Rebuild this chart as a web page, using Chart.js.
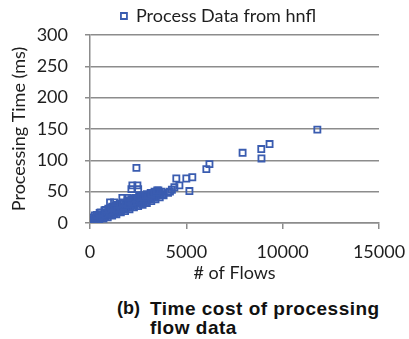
<!DOCTYPE html>
<html>
<head>
<meta charset="utf-8">
<script src="https://cdn.jsdelivr.net/npm/chart.js@4.4.0/dist/chart.umd.min.js"></script>
<style>
    body { margin: 0; background: #fff; }
    #wrap { position: relative; width: 409px; height: 339px; }
    #box { position: absolute; left: 0; top: 0; width: 409px; height: 284px; }
    #caption {
        position: absolute; left: 117px; top: 299px;
        font-family: "Liberation Sans", Arial, sans-serif; font-weight: bold;
        font-size: 19px; line-height: 19px; color: #111;
    }
    #caption .lbl { position: absolute; left: 0; top: 0; font-size: 18px; }
    #caption .txt { position: absolute; left: 33px; top: 0; white-space: nowrap; letter-spacing: 0.5px; }
</style>
</head>
<body>
<div id="wrap">
    <div id="box"><canvas id="grafico"></canvas></div>
    <div id="caption"><span class="lbl">(b)</span><span class="txt">Time cost of processing<br>flow data</span></div>
</div>
<script>
// --- dati (flussi, ms) ---
var serieLabel = 'Process Data from hnfl';
var xTicks = [0, 5000, 10000, 15000];
var yTicks = [0, 50, 100, 150, 200, 250, 300];

var bandLow = [[30,1],[120,2],[220,4],[330,5],[450,6],[560,8],[680,9],[790,11],[900,12],[1020,13],[1140,15],[1260,16],[1380,18],[1490,19],[1610,21],[1730,22],[1850,24],[1960,25],[2080,27],[2200,28],[2320,29],[2440,31],[2560,32],[2680,34],[2800,35],[2920,37],[3040,38],[3160,40],[3280,41],[3400,42],[3520,44],[3640,45],[3760,46]];
var bandLow2 = [[80,0],[270,2],[480,4],[700,7],[920,9],[1150,12],[1370,14],[1600,17],[1820,19],[2050,22],[2280,25],[2500,27],[2730,29],[2950,32],[3180,35],[3400,38],[3620,41],[3820,44]];
var bandMid = [[60,3],[180,6],[300,8],[420,10],[540,12],[660,13],[780,15],[900,17],[1010,18],[1130,20],[1250,21],[1370,23],[1480,24],[1600,26],[1720,27],[1840,29],[1950,30],[2070,32],[2190,33],[2310,35],[2420,36],[2540,38],[2660,39],[2780,40],[2900,42],[3020,43],[3140,45],[3260,46],[3380,47],[3500,48],[3620,49],[3720,50]];
var bandHigh = [[150,9],[350,13],[550,17],[750,20],[950,23],[1150,26],[1350,28],[1550,31],[1750,33],[1950,35],[2150,38],[2350,40],[2550,42],[2750,44],[2950,46],[3150,48],[3350,50],[3550,52]];
var bandTop = [[250,12],[500,16],[800,21],[1100,24],[1400,29],[1700,32],[2000,36],[2300,39],[2600,41],[2900,44],[3200,47],[3450,49]];
var sparsi = [[1040,33],[1250,33],[1680,40],[1940,40],[2150,54],[2500,54],[2200,60],[2460,60],[2410,88],[3490,52],
    [4050,48],[4150,50],[4250,53],[4380,57],[4480,71],[4640,60],[5000,71],[5310,73],[5160,51],[6040,86],[6200,94],
    [7920,112],[8900,103],[8890,118],[9320,126],[11800,149]];

var punti = bandLow.concat(bandLow2, bandMid, bandHigh, bandTop, sparsi).map(function (p) {
    return { x: p[0], y: p[1] };
});

var blu = '#3a5cb0';
var grigio = '#8c8c8c';
var testo = '#1e1e1e';
var fontBase = "Lato, 'Open Sans', sans-serif";

// sposta la legenda a destra come nell'originale
var spostaLegenda = {
    id: 'spostaLegenda',
    afterLayout: function (chart) {
        chart.legend.left += 14;
        chart.legend.right += 14;
    }
};

var ctx = document.getElementById('grafico');
var chart = new Chart(ctx, {
    type: 'scatter',
    data: {
        datasets: [{
            label: serieLabel,
            data: punti,
            pointStyle: 'rect',
            pointRadius: 4.3,
            pointBorderWidth: 1.8,
            borderColor: blu,
            backgroundColor: 'rgba(255,255,255,0)'
        }]
    },
    options: {
        responsive: true,
        maintainAspectRatio: false,
        animation: false,
        layout: { padding: { left: 0, right: 0, top: 0, bottom: 0 } },
        plugins: {
            legend: {
                position: 'top',
                labels: {
                    usePointStyle: true,
                    boxWidth: 6,
                    boxHeight: 6,
                    padding: 7,
                    color: testo,
                    font: { family: fontBase, size: 18 }
                }
            },
            tooltip: { enabled: false }
        },
        scales: {
            x: {
                type: 'linear',
                min: 0,
                max: 15000,
                afterBuildTicks: function (axis) {
                    axis.ticks = xTicks.map(function (v) { return { value: v }; });
                },
                afterFit: function (scale) {
                    scale.height = 61;
                    scale.paddingRight = 30;
                },
                grid: { drawOnChartArea: false, color: grigio, lineWidth: 1.5, tickLength: 6 },
                border: { color: grigio, width: 1.5 },
                ticks: {
                    color: testo, padding: 12, maxRotation: 0, font: { family: fontBase, size: 18 },
                    callback: function (v) { return String(v); }
                },
                title: { display: true, text: '# of Flows', color: testo, padding: { top: 0, bottom: 0 }, font: { family: fontBase, size: 18 } }
            },
            y: {
                min: 0,
                max: 300,
                afterBuildTicks: function (axis) {
                    axis.ticks = yTicks.map(function (v) { return { value: v }; });
                },
                afterFit: function (scale) { scale.width = 90; },
                grid: { color: grigio, lineWidth: 1.5, tickLength: 5 },
                border: { color: grigio, width: 1.5 },
                ticks: { color: testo, padding: 17, font: { family: fontBase, size: 18 } },
                title: { display: true, text: 'Processing Time (ms)', color: testo, padding: { top: 8, bottom: 0 }, font: { family: fontBase, size: 18 } }
            }
        }
    },
    plugins: [spostaLegenda]
});
</script>
</body>
</html>
